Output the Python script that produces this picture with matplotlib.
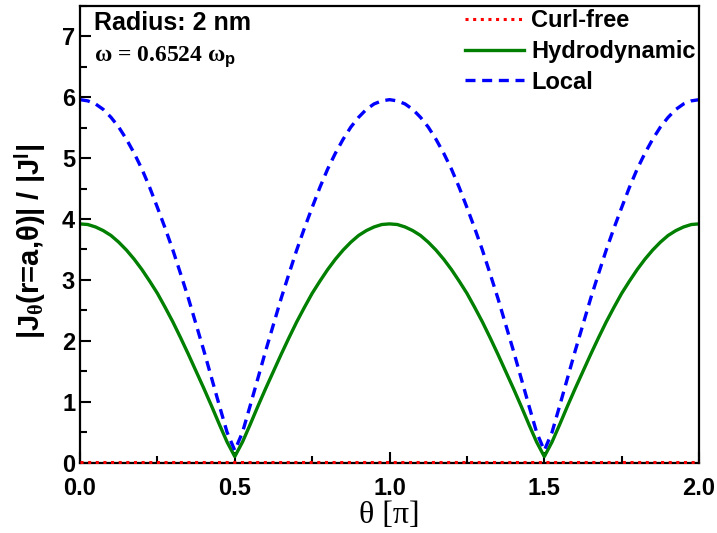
import numpy as np
import matplotlib
matplotlib.use("Agg")
import matplotlib.pyplot as plt
from matplotlib.ticker import MultipleLocator, FormatStrFormatter

# theta in units of pi, read every 0.025 over the first half period
theta_half = [0.0, 0.025, 0.05, 0.075, 0.1, 0.125, 0.15, 0.175, 0.2, 0.225, 0.25,
              0.275, 0.3, 0.325, 0.35, 0.375, 0.4, 0.425, 0.45, 0.475, 0.5]
local_down = [5.96, 5.94, 5.89, 5.80, 5.67, 5.51, 5.31, 5.08, 4.82, 4.52, 4.19,
              3.85, 3.49, 3.10, 2.70, 2.27, 1.84, 1.39, 0.94, 0.50, 0.20]
hydro_down = [3.92, 3.91, 3.87, 3.81, 3.73, 3.62, 3.49, 3.34, 3.17, 2.98, 2.78,
              2.55, 2.31, 2.05, 1.78, 1.50, 1.22, 0.93, 0.63, 0.34, 0.10]
curl_free_level = 0.01

# the pattern repeats every half period: down, up, down, up
theta = np.concatenate([np.array(theta_half) + 0.5 * k for k in range(4)])
local = np.concatenate([local_down, local_down[::-1], local_down, local_down[::-1]])
hydro = np.concatenate([hydro_down, hydro_down[::-1], hydro_down, hydro_down[::-1]])
curl_free = np.full(len(theta), curl_free_level)

plt.rcParams['font.family'] = ['Liberation Sans', 'DejaVu Sans']
plt.rcParams['font.weight'] = 'bold'
plt.rcParams['mathtext.fontset'] = 'custom'
plt.rcParams['mathtext.rm'] = 'Liberation Serif'
plt.rcParams['mathtext.sf'] = 'Liberation Sans:bold'
plt.rcParams['mathtext.bf'] = 'Liberation Sans:bold'
plt.rcParams['mathtext.it'] = 'Liberation Serif:italic'

fig = plt.figure(figsize=(7.17, 5.33), dpi=100)
ax = fig.add_axes([0.1116, 0.132, 0.8634, 0.857])

ax.plot(theta, curl_free, color='red', linestyle=(0, (1, 1.5)), linewidth=2.2,
        label='Curl-free', clip_on=False, zorder=5)
ax.plot(theta, hydro, color='#007f00', linewidth=2.4, label='Hydrodynamic')
ax.plot(theta, local, color='blue', linestyle=(0, (3, 2)), linewidth=2.4, label='Local')

ax.set_xlim(0, 2)
ax.set_ylim(0, 7.5)
ax.xaxis.set_major_locator(MultipleLocator(0.5))
ax.xaxis.set_minor_locator(MultipleLocator(0.25))
ax.yaxis.set_major_locator(MultipleLocator(1))
ax.yaxis.set_minor_locator(MultipleLocator(0.5))
ax.xaxis.set_major_formatter(FormatStrFormatter('%.1f'))
ax.tick_params(which='both', direction='in', top=False, right=False, labelsize=17, width=1.5)
ax.tick_params(which='major', length=8)
ax.tick_params(which='minor', length=5)
ax.tick_params(axis='x', pad=10)
for s in ax.spines.values():
    s.set_linewidth(1.6)

ax.set_xlabel('θ [π]', fontsize=23, fontweight='normal',
              family=['Liberation Serif'], labelpad=1)
ax.set_ylabel(r'|J$_\mathrm{θ}$(r=a,θ)| / |J$^\mathsf{l}$|', fontsize=21,
              fontweight='bold')
ax.yaxis.set_label_coords(-0.052, 0.484)

ax.text(0.022, 0.988, 'Radius: 2 nm', transform=ax.transAxes, fontsize=18,
        fontweight='bold', va='top', ha='left')
ax.text(0.022, 0.915, r'ω = 0.6524 ω$_\mathsf{p}$', transform=ax.transAxes,
        fontsize=17, fontweight='bold', va='top', ha='left', family=['Liberation Serif'])

ax.legend(loc='upper right', frameon=False, fontsize=17, handlelength=2.5,
          borderaxespad=0.0, labelspacing=0.32, handletextpad=0.3, borderpad=0.15)

fig.savefig('out.png', dpi=100)
